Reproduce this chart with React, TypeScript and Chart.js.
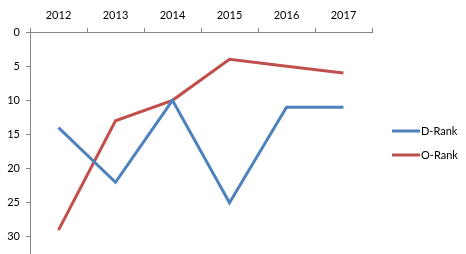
import React, { useEffect, useRef } from "react";
import { Chart, registerables } from "chart.js";

Chart.register(...registerables);

const years = ["2012", "2013", "2014", "2015", "2016", "2017"];
const dRank = [14, 22, 10, 25, 11, 11];
const oRank = [29, 13, 10, 4, 5, 6];
const yTicks = [0, 5, 10, 15, 20, 25, 30];

const BLUE = "#4F81BD";
const RED = "#C0504D";
const AXIS = "#868686";
const FONT = "Lato, 'Liberation Sans', sans-serif";

const legendPlugin = {
  id: "customLegend",
  afterDraw(chart: any) {
    const ctx = chart.ctx;
    const items = chart.data.datasets.map((d: any) => ({ label: d.label, color: d.borderColor }));
    ctx.save();
    ctx.font = `11px ${FONT}`;
    ctx.textBaseline = "middle";
    ctx.textAlign = "left";
    const ys = [131, 155];
    items.forEach((it: any, i: number) => {
      const y = ys[i];
      ctx.strokeStyle = it.color;
      ctx.lineWidth = 3;
      ctx.lineCap = "butt";
      ctx.beginPath();
      ctx.moveTo(392, y);
      ctx.lineTo(420, y);
      ctx.stroke();
      ctx.fillStyle = "#000";
      ctx.fillText(it.label, 421, y);
    });
    ctx.restore();
  },
};

export default function App() {
  const ref = useRef<HTMLCanvasElement>(null);
  useEffect(() => {
    if (!ref.current) return;
    const chart = new Chart(ref.current, {
      type: "line",
      data: {
        labels: years,
        datasets: [
          { label: "D-Rank", data: dRank, borderColor: BLUE, backgroundColor: BLUE, borderWidth: 3, pointRadius: 0, tension: 0 },
          { label: "O-Rank", data: oRank, borderColor: RED, backgroundColor: RED, borderWidth: 3, pointRadius: 0, tension: 0 },
        ],
      },
      options: {
        responsive: false,
        animation: false,
        layout: { padding: { left: 0, top: 0, right: 94, bottom: 0 } },
        plugins: { legend: { display: false }, tooltip: { enabled: false } },
        scales: {
          x: {
            position: "top",
            offset: true,
            grid: { offset: true, drawOnChartArea: false, drawTicks: true, tickLength: 4, color: AXIS },
            border: { color: AXIS, width: 1 },
            ticks: { color: "#000", font: { family: FONT, size: 11 }, padding: 6, maxRotation: 0 },
            afterFit: (s: any) => { s.height = 32; s.paddingLeft = 0; s.paddingRight = 0; },
          },
          y: {
            reverse: true,
            min: 0,
            max: 32.5,
            afterBuildTicks: (s: any) => { s.ticks = yTicks.map((v) => ({ value: v })); },
            grid: { drawOnChartArea: false, drawTicks: true, tickLength: 4, color: AXIS },
            border: { color: AXIS, width: 1 },
            ticks: { color: "#000", font: { family: FONT, size: 11 }, padding: 6 },
            afterFit: (s: any) => { s.width = 30; s.paddingTop = 0; s.paddingBottom = 0; },
          },
        },
      },
      plugins: [legendPlugin],
    });
    return () => chart.destroy();
  }, []);
  return (
    <div style={{ position: "fixed", left: 0, top: 0, width: 466, height: 254, background: "#fff" }}>
      <canvas ref={ref} width={466} height={254} />
    </div>
  );
}
